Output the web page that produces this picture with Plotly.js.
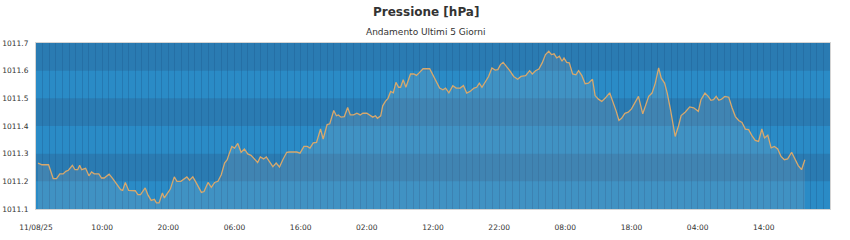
<!DOCTYPE html>
<html>
<head>
<meta charset="utf-8">
<script src="https://cdn.plot.ly/plotly-3.0.1.min.js"></script>
<style>html,body{margin:0;padding:0;background:#fff;}#chart{width:850px;height:240px;}</style>
</head>
<body>
<div id="chart"></div>
<script>
// hours since 11/08/25 00:00
const hours = [0.3,0.9,1.9,2.6,3.1,3.6,4.1,4.5,4.9,5.5,5.9,6.3,6.6,6.9,7.5,8.0,8.4,8.8,9.5,9.9,10.3,11.05,11.6,12.2,12.8,13.1,13.5,14.0,14.5,15.0,15.4,15.8,16.5,16.9,17.4,17.9,18.2,18.6,19.1,19.4,19.8,20.3,20.9,21.3,21.9,22.8,23.2,23.7,24.1,24.6,25.0,25.4,26.0,26.5,27.0,27.5,28.0,28.5,28.9,29.2,29.6,30.0,30.5,
31.0,31.5,32.0,32.5,33.0,33.5,33.9,34.4,34.8,35.3,35.8,36.3,36.8,37.3,37.9,38.3,39.4,39.9,40.5,41.0,41.4,41.9,42.4,42.6,43.0,43.4,43.7,44.0,44.4,44.6,45.0,45.4,45.7,46.1,46.6,47.1,47.5,48.0,48.5,49.0,49.4,50.0,50.4,50.9,51.3,51.6,52.1,52.4,52.8,53.2,53.6,54.0,54.4,54.8,55.1,55.5,55.9,56.3,56.6,57.1,57.5,57.9,58.5,59.5,60.1,60.6,61.0,
61.5,61.9,62.4,62.7,63.0,63.5,64.1,64.6,65.1,65.6,66.2,66.6,67.0,67.4,67.9,68.4,68.9,69.4,69.8,70.2,70.6,71.1,71.6,72.2,72.8,73.3,74.0,74.6,75.0,75.5,76.0,76.5,77.0,77.5,77.9,78.3,78.7,79.1,79.5,79.8,80.2,80.6,81.1,81.6,82.0,82.5,83.0,83.5,84.1,84.5,85.0,85.5,86.0,86.7,87.2,87.7,88.1,88.5,89.0,89.5,
90.0,90.5,91.05,91.7,92.1,92.6,93.1,93.6,94.1,94.5,95.0,95.4,95.9,96.3,96.6,97.1,97.5,98.1,98.8,99.4,100.1,100.5,101.1,101.6,102.0,102.4,102.8,103.2,103.6,104.1,104.7,105.2,105.7,106.2,106.7,107.2,107.7,108.2,108.7,109.2,109.7,110.1,110.6,111.1,111.6,112.1,112.6,113.1,113.6,114.2,114.7,115.2,115.7,116.2];
const pressure = [1011.266,1011.26,1011.26,1011.21,1011.21,1011.227,1011.227,1011.236,1011.24,1011.258,1011.242,1011.242,1011.258,1011.242,1011.247,1011.22,1011.234,1011.227,1011.227,1011.212,1011.212,1011.226,1011.21,1011.188,1011.17,1011.167,1011.196,1011.167,1011.166,1011.166,1011.152,1011.152,1011.176,1011.152,1011.131,1011.135,1011.122,1011.122,1011.158,1011.14,1011.155,1011.172,1011.216,1011.2,1011.2,1011.216,1011.204,1011.216,1011.2,1011.176,1011.16,1011.163,1011.196,1011.178,1011.196,1011.2,1011.224,1011.266,1011.278,1011.3,1011.326,1011.32,1011.337,
1011.305,1011.317,1011.299,1011.294,1011.281,1011.268,1011.288,1011.281,1011.288,1011.268,1011.253,1011.266,1011.252,1011.278,1011.305,1011.306,1011.306,1011.302,1011.326,1011.326,1011.32,1011.339,1011.341,1011.357,1011.389,1011.353,1011.381,1011.405,1011.408,1011.425,1011.456,1011.437,1011.44,1011.432,1011.434,1011.467,1011.44,1011.44,1011.446,1011.44,1011.446,1011.446,1011.44,1011.432,1011.437,1011.428,1011.437,1011.473,1011.489,1011.5,1011.525,1011.52,1011.558,1011.54,1011.54,1011.567,1011.54,1011.569,1011.588,1011.588,1011.583,1011.592,1011.607,1011.607,1011.58,1011.558,1011.537,
1011.531,1011.537,1011.52,1011.534,1011.546,1011.537,1011.537,1011.546,1011.519,1011.525,1011.537,1011.54,1011.555,1011.54,1011.558,1011.579,1011.61,1011.602,1011.604,1011.622,1011.63,1011.616,1011.6,1011.579,1011.569,1011.579,1011.582,1011.6,1011.588,1011.6,1011.606,1011.628,1011.658,1011.67,1011.658,1011.661,1011.646,1011.652,1011.634,1011.646,1011.63,1011.628,1011.588,1011.585,1011.6,1011.582,1011.553,1011.555,1011.569,1011.51,1011.497,1011.489,1011.5,1011.52,1011.489,1011.453,1011.42,1011.428,1011.446,1011.45,
1011.462,1011.485,1011.507,1011.444,1011.471,1011.507,1011.519,1011.555,1011.61,1011.573,1011.555,1011.519,1011.458,1011.405,1011.362,1011.4,1011.438,1011.45,1011.469,1011.466,1011.453,1011.495,1011.519,1011.507,1011.493,1011.495,1011.507,1011.493,1011.497,1011.507,1011.504,1011.466,1011.434,1011.42,1011.413,1011.389,1011.387,1011.365,1011.348,1011.344,1011.389,1011.357,1011.367,1011.321,1011.326,1011.317,1011.29,1011.278,1011.281,1011.305,1011.278,1011.257,1011.242,1011.278];

const tickHours = [0,10,20,30,40,50,60,70,80,90,100,110];
const tickLabels = ['11/08/25','10:00','20:00','06:00','16:00','02:00','12:00','22:00','08:00','18:00','04:00','14:00'];
const yTicks = [1011.1,1011.2,1011.3,1011.4,1011.5,1011.6,1011.7];
const yTickLabels = ['1011.1','1011.2','1011.3','1011.4','1011.5','1011.6','1011.7'];

// alternating horizontal bands between y ticks
const shapes = [];
for (let i = 0; i < yTicks.length - 1; i++) {
  if (i % 2 === 1) {
    shapes.push({type:'rect', xref:'paper', yref:'y', x0:0, x1:1, y0:yTicks[i], y1:yTicks[i+1],
      fillcolor:'#2a7bb2', line:{width:0}, layer:'below'});
  }
}

const trace = {
  x: hours, y: pressure, type:'scatter', mode:'lines',
  line:{color:'#d8a86c', width:1.3},
  fill:'tozeroy', fillcolor:'rgba(215,195,180,0.13)',
  hoverinfo:'skip'
};

const layout = {
  width:850, height:240,
  margin:{l:36, r:20, t:43, b:31},
  paper_bgcolor:'#ffffff', plot_bgcolor:'#2a8bc6',
  showlegend:false,
  font:{family:'DejaVu Sans, sans-serif', size:8, color:'#333'},
  shapes: shapes,
  annotations:[
    {text:'<b>Pressione [hPa]</b>', xref:'paper', yref:'paper', x:0.4915, y:1, yshift:31, showarrow:false,
     xanchor:'center', yanchor:'middle', font:{family:'DejaVu Sans, sans-serif', size:12, color:'#333'}},
    {text:'Andamento Ultimi 5 Giorni', xref:'paper', yref:'paper', x:0.4915, y:1, yshift:11, showarrow:false,
     xanchor:'center', yanchor:'middle', font:{family:'DejaVu Sans, sans-serif', size:9, color:'#333'}}
  ],
  xaxis:{
    range:[0,120], tickmode:'array', tickvals:tickHours, ticktext:tickLabels,
    showgrid:false, zeroline:false, ticks:'outside', ticklen:11, tickcolor:'rgba(0,0,0,0)',
    showline:true, mirror:true, linecolor:'#d4d4d4', linewidth:1,
    tickfont:{size:7.5, color:'#333'},
    minor:{dtick:1, tick0:0, showgrid:true, gridcolor:'rgba(30,90,140,0.35)', gridwidth:1, ticks:''}
  },
  yaxis:{
    range:[1011.1,1011.7], tickmode:'array', tickvals:yTicks, ticktext:yTickLabels,
    showgrid:false, zeroline:false, ticks:'outside', ticklen:5, tickcolor:'rgba(0,0,0,0)',
    showline:true, mirror:true, linecolor:'#d4d4d4', linewidth:1,
    tickfont:{size:7.5, color:'#333'}
  }
};

Plotly.newPlot('chart', [trace], layout, {displayModeBar:false, staticPlot:true});
</script>
</body>
</html>
